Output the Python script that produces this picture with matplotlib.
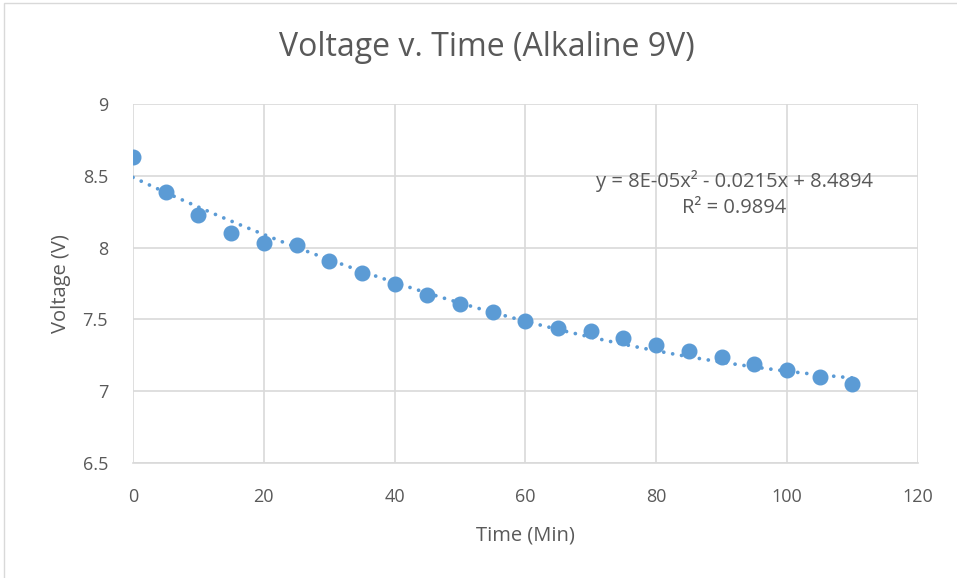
import matplotlib.pyplot as plt
import numpy as np
from matplotlib.patches import Rectangle

times = [0, 5, 10, 15, 20, 25, 30, 35, 40, 45, 50, 55,
         60, 65, 70, 75, 80, 85, 90, 95, 100, 105, 110]
volts = [8.63, 8.39, 8.23, 8.10, 8.03, 8.02, 7.91, 7.82, 7.75, 7.67, 7.61, 7.55,
         7.49, 7.44, 7.42, 7.37, 7.32, 7.28, 7.24, 7.19, 7.15, 7.10, 7.05]

# Trendline coefficients shown on the chart
trend_coef = [8e-05, -0.0215, 8.4894]
x_ticks = [0, 20, 40, 60, 80, 100, 120]
y_ticks = [6.5, 7, 7.5, 8, 8.5, 9]

plt.rcParams['font.family'] = ['Open Sans', 'DejaVu Sans']
text_col = "#595959"
blue = "#5b9bd5"

fig = plt.figure(figsize=(9.57, 5.78), dpi=100)
ax = fig.add_axes([0.139, 0.199, 0.820, 0.621])

# trendline (dotted)
xt = np.linspace(times[0], times[-1], 200)
ax.plot(xt, np.polyval(trend_coef, xt), color=blue, linestyle=(0, (0.01, 2.4)),
        linewidth=2.7, dash_capstyle="round", zorder=2)
ax.plot(times, volts, "o", color=blue, markersize=10.5, zorder=3)

ax.set_xlim(0, 120)
ax.set_ylim(6.5, 9)
ax.set_xticks(x_ticks)
ax.set_yticks(y_ticks)
ax.set_yticklabels(["6.5", "7", "7.5", "8", "8.5", "9"])
ax.grid(True, color="#d9d9d9", linewidth=1.2)
ax.set_axisbelow(True)
for s in ["top", "right", "left"]:
    ax.spines[s].set_visible(False)
ax.spines["bottom"].set_color("#d9d9d9")
ax.spines["bottom"].set_linewidth(1.2)
ax.tick_params(length=0, labelsize=13, colors=text_col)
ax.tick_params(axis="x", pad=18)
ax.tick_params(axis="y", pad=18)

fig.text(487 / 957, 1 - 48 / 578, "Voltage v. Time (Alkaline 9V)", ha="center",
         va="center", fontsize=23, color=text_col)
ax.set_xlabel("Time (Min)", fontsize=14.5, color=text_col, labelpad=14)
ax.set_ylabel("Voltage (V)", fontsize=14.5, color=text_col, labelpad=8)

ax.text(91.9, 8.464, "y = 8E-05x² - 0.0215x + 8.4894", ha="center", va="center",
        fontsize=14.5, color=text_col)
ax.text(91.9, 8.276, "R² = 0.9894", ha="center", va="center",
        fontsize=14.5, color=text_col)

# chart border
fig.patches.append(Rectangle((4 / 957, -0.01), 1.1, 1 - 3 / 578 + 0.01,
                             transform=fig.transFigure, fill=False,
                             edgecolor="#d9d9d9", linewidth=1))

fig.savefig("out.png", dpi=100)
